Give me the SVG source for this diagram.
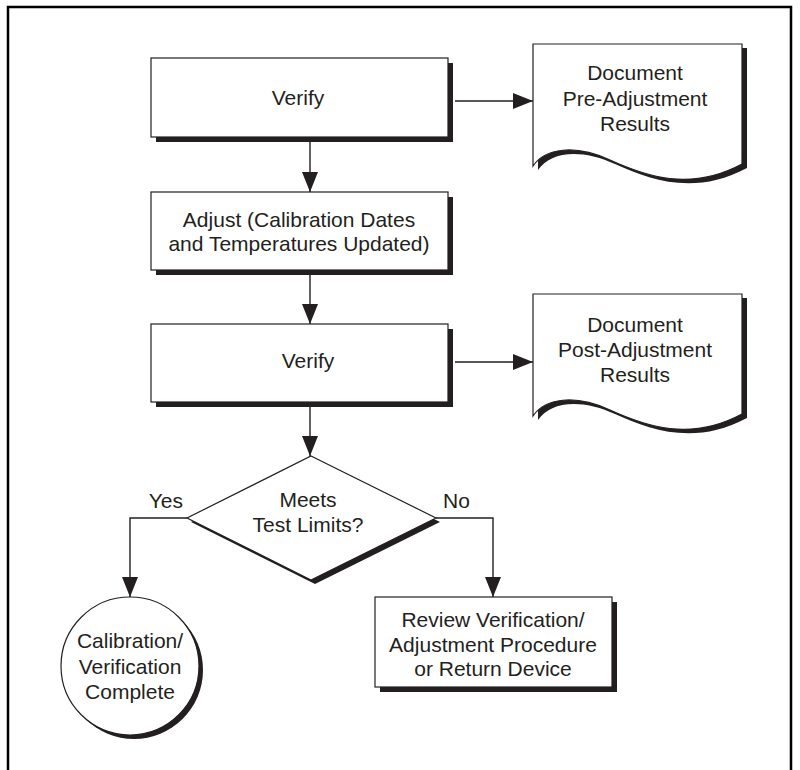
<svg xmlns="http://www.w3.org/2000/svg" width="800" height="770" viewBox="0 0 800 770">
<defs>
<style>
.t{font-family:"Liberation Sans",Arial,sans-serif;font-size:21px;fill:#231f20;text-anchor:middle}
.box{fill:#fff;stroke:#231f20;stroke-width:1.2}
.sh{fill:#231f20}
.c{stroke:#231f20;stroke-width:1.4;fill:none}
</style>
<marker id="ah" viewBox="0 0 20 16" refX="20" refY="8" markerWidth="20" markerHeight="16" markerUnits="userSpaceOnUse" orient="auto">
<path d="M0,0 L20,8 L0,16 Z" fill="#231f20"/>
</marker>
<path id="doc" d="M533,44 H742 V164 C 690,192 645,176 610,160 C 575,144 545,148 533,166 Z"/>
</defs>
<rect width="800" height="770" fill="#fff"/>
<path d="M8,775 V7 H791 V775" fill="none" stroke="#000" stroke-width="2.5"/>

<g id="verify1">
<rect class="sh" x="156" y="63" width="297" height="79"/>
<rect class="box" x="151" y="58" width="297" height="79"/>
<text class="t" x="298" y="105">Verify</text>
</g>

<g id="doc-pre">
<use href="#doc" class="sh" transform="translate(5,4)"/>
<use href="#doc" class="box"/>
<text class="t" x="635" y="80">Document</text>
<text class="t" x="635" y="105.5">Pre-Adjustment</text>
<text class="t" x="635" y="131">Results</text>
</g>

<g id="adjust">
<rect class="sh" x="156" y="197" width="297" height="78"/>
<rect class="box" x="151" y="192" width="297" height="78"/>
<text class="t" x="299" y="227">Adjust (Calibration Dates</text>
<text class="t" x="299" y="251">and Temperatures Updated)</text>
</g>

<g id="verify2">
<rect class="sh" x="156" y="329" width="297" height="78"/>
<rect class="box" x="151" y="324" width="297" height="78"/>
<text class="t" x="308" y="368">Verify</text>
</g>

<g id="doc-post">
<g transform="translate(0,250)">
<use href="#doc" class="sh" transform="translate(5,4)"/>
<use href="#doc" class="box"/>
</g>
<text class="t" x="635" y="332">Document</text>
<text class="t" x="635" y="357">Post-Adjustment</text>
<text class="t" x="635" y="382">Results</text>
</g>

<g id="decision">
<polygon class="sh" points="315,460 440,522 315,584 191,522"/>
<polygon class="box" points="311,456 436,518 311,580 187,518"/>
<text class="t" x="308" y="507">Meets</text>
<text class="t" x="308" y="532">Test Limits?</text>
</g>

<g id="complete">
<circle class="sh" cx="134" cy="670" r="69"/>
<circle class="box" cx="130" cy="666" r="69"/>
<text class="t" x="130" y="648">Calibration/</text>
<text class="t" x="130" y="674">Verification</text>
<text class="t" x="130" y="699">Complete</text>
</g>

<g id="review">
<rect class="sh" x="380" y="602" width="237" height="90"/>
<rect class="box" x="375" y="597" width="237" height="90"/>
<text class="t" x="493" y="627">Review Verification/</text>
<text class="t" x="493" y="652">Adjustment Procedure</text>
<text class="t" x="493" y="676">or Return Device</text>
</g>

<g id="connectors">
<line class="c" x1="455" y1="101" x2="533" y2="101" marker-end="url(#ah)"/>
<line class="c" x1="310" y1="142" x2="310" y2="192" marker-end="url(#ah)"/>
<line class="c" x1="310" y1="275" x2="310" y2="324" marker-end="url(#ah)"/>
<line class="c" x1="455" y1="362" x2="533" y2="362" marker-end="url(#ah)"/>
<line class="c" x1="310" y1="407" x2="310" y2="456" marker-end="url(#ah)"/>
<polyline class="c" points="187,518 130,518 130,597" marker-end="url(#ah)"/>
<polyline class="c" points="436,518 493,518 493,597" marker-end="url(#ah)"/>
<text class="t" x="183" y="508" style="text-anchor:end">Yes</text>
<text class="t" x="443" y="508" style="text-anchor:start">No</text>
</g>
</svg>
